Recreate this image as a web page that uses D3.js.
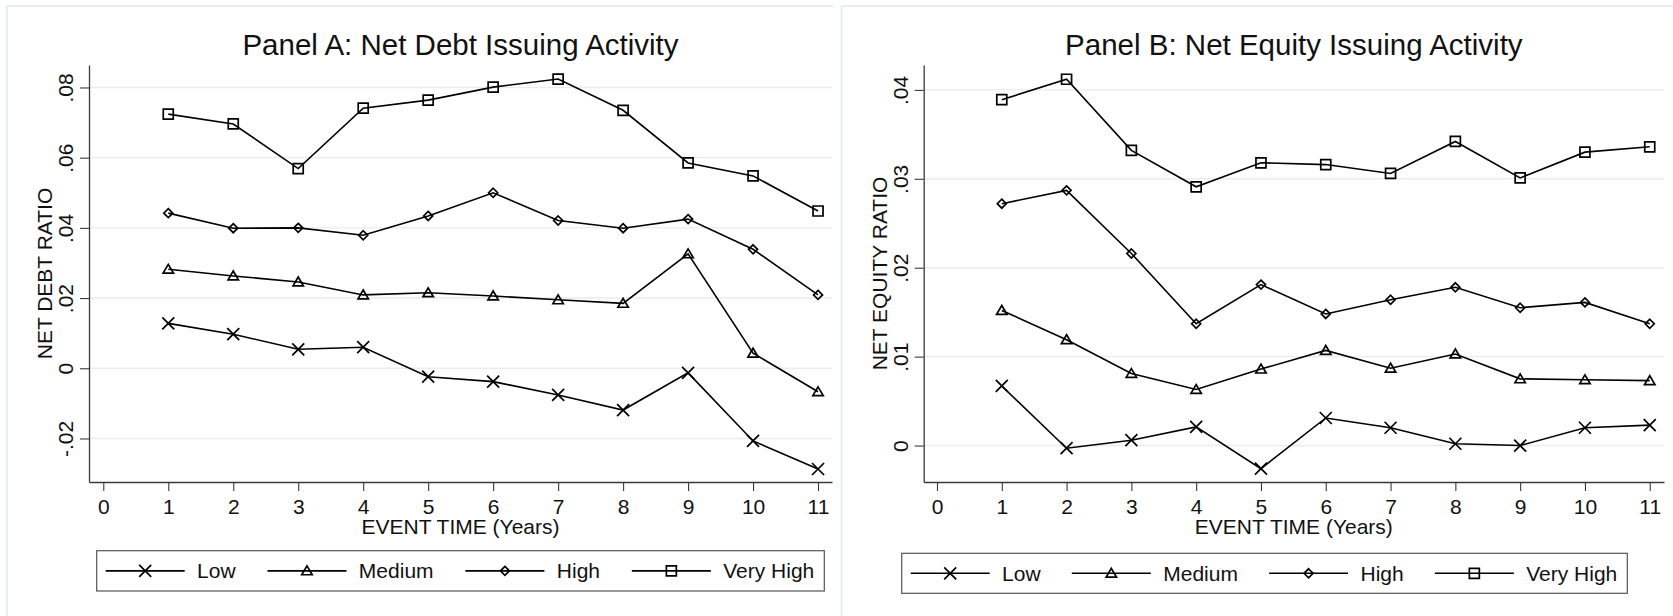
<!DOCTYPE html>
<html>
<head>
<meta charset="utf-8">
<script src="https://cdn.jsdelivr.net/npm/d3@7"></script>
<style>
  body { margin: 0; background: #fff; }
  svg { display: block; font-family: "Liberation Sans", Arial, sans-serif; }
</style>
</head>
<body>
<svg id="chart" width="1673" height="616"></svg>
<script>
// data
const years = [1, 2, 3, 4, 5, 6, 7, 8, 9, 10, 11];
const xTicks = [0, 1, 2, 3, 4, 5, 6, 7, 8, 9, 10, 11];
const seriesNames = ["Low", "Medium", "High", "Very High"];

const debtLow      = [0.0128, 0.0097, 0.0054, 0.0060, -0.0024, -0.0038, -0.0076, -0.0119, -0.0013, -0.0207, -0.0287];
const debtMedium   = [0.0282, 0.0263, 0.0246, 0.0209, 0.0215, 0.0206, 0.0195, 0.0185, 0.0326, 0.0043, -0.0067];
const debtHigh     = [0.0442, 0.0399, 0.0400, 0.0379, 0.0434, 0.0500, 0.0421, 0.0399, 0.0425, 0.0339, 0.0209];
const debtVeryHigh = [0.0724, 0.0696, 0.0569, 0.0741, 0.0764, 0.0801, 0.0824, 0.0735, 0.0585, 0.0548, 0.0448];

const equityLow      = [0.0067, -0.0003, 0.0006, 0.0021, -0.0026, 0.0031, 0.0020, 0.0002, 0.0000, 0.0020, 0.0023];
const equityMedium   = [0.0152, 0.0119, 0.0081, 0.0063, 0.0086, 0.0107, 0.0087, 0.0103, 0.0075, 0.0074, 0.0073];
const equityHigh     = [0.0272, 0.0287, 0.0216, 0.0137, 0.0181, 0.0148, 0.0164, 0.0178, 0.0155, 0.0161, 0.0137];
const equityVeryHigh = [0.0389, 0.0412, 0.0332, 0.0291, 0.0318, 0.0316, 0.0306, 0.0342, 0.0301, 0.0330, 0.0336];

const debtTicks = [-0.02, 0, 0.02, 0.04, 0.06, 0.08];
const debtTickLabels = ["-.02", "0", ".02", ".04", ".06", ".08"];
const equityTicks = [0, 0.01, 0.02, 0.03, 0.04];
const equityTickLabels = ["0", ".01", ".02", ".03", ".04"];

const svg = d3.select("#chart");
const gridColor = "#e6eef0";
const frameColor = "#e2e9eb";
const axisColor = "#3a3a3a";

// marker shapes, size = half width
const markerTypes = {
  times: { draw(c, s) { c.moveTo(-s, -s); c.lineTo(s, s); c.moveTo(s, -s); c.lineTo(-s, s); } },
  triangle: { draw(c, s) { c.moveTo(0, -s * 0.95); c.lineTo(s, s * 0.75); c.lineTo(-s, s * 0.75); c.closePath(); } },
  diamond: { draw(c, s) { c.moveTo(0, -s); c.lineTo(s, 0); c.lineTo(0, s); c.lineTo(-s, 0); c.closePath(); } },
  square: { draw(c, s) { c.rect(-s, -s, 2 * s, 2 * s); } }
};
const markers = [
  { type: markerTypes.times, size: 6 },
  { type: markerTypes.triangle, size: 5.2 },
  { type: markerTypes.diamond, size: 4.5 },
  { type: markerTypes.square, size: 5 }
];

function drawPanel(p) {
  const g = svg.append("g");

  // light frame of the graph region
  g.append("line").attr("x1", p.frameX).attr("x2", p.frameRight).attr("y1", 6).attr("y2", 6)
    .attr("stroke", frameColor).attr("stroke-width", 1.5);
  g.append("line").attr("x1", p.frameX).attr("x2", p.frameX).attr("y1", 6).attr("y2", 616)
    .attr("stroke", frameColor).attr("stroke-width", 1.5);

  const x = d3.scaleLinear().domain(p.xDomain).range([p.left, p.right]);
  const y = d3.scaleLinear().domain(p.yDomain).range([p.bottom, p.top]);

  // gridlines
  g.append("g").selectAll("line").data(p.yTicks).join("line")
    .attr("x1", p.left).attr("x2", p.right)
    .attr("y1", d => y(d)).attr("y2", d => y(d))
    .attr("stroke", gridColor).attr("stroke-width", 1.4);

  // x axis
  const xAxis = g.append("g")
    .attr("transform", "translate(0," + p.bottom + ")")
    .call(d3.axisBottom(x).tickValues(xTicks).tickSize(9).tickSizeOuter(0).tickPadding(8));
  xAxis.select(".domain").attr("stroke", axisColor).attr("stroke-width", 1.3);
  xAxis.selectAll(".tick line").attr("stroke", axisColor).attr("stroke-width", 1.1);
  xAxis.selectAll(".tick text").attr("font-size", 21).attr("fill", "#111")
    .attr("font-family", "Liberation Sans, Arial, sans-serif");

  // y axis with rotated labels
  const yAxis = g.append("g")
    .attr("transform", "translate(" + p.left + ",0)")
    .call(d3.axisLeft(y).tickValues(p.yTicks).tickSize(9).tickSizeOuter(0)
      .tickFormat((d, i) => p.yTickLabels[i]));
  yAxis.select(".domain").attr("stroke", axisColor).attr("stroke-width", 1.3);
  yAxis.selectAll(".tick line").attr("stroke", axisColor).attr("stroke-width", 1.1);
  yAxis.selectAll(".tick text")
    .attr("x", null).attr("dy", null)
    .attr("text-anchor", "middle")
    .attr("transform", "translate(-16,0) rotate(-90)")
    .attr("font-size", 21).attr("fill", "#111")
    .attr("font-family", "Liberation Sans, Arial, sans-serif");

  // titles
  g.append("text").attr("x", (p.left + p.right) / 2).attr("y", 55)
    .attr("text-anchor", "middle").attr("font-size", 29.5).attr("fill", "#111")
    .text(p.title);
  g.append("text").attr("x", (p.left + p.right) / 2).attr("y", 534)
    .attr("text-anchor", "middle").attr("font-size", 21).attr("fill", "#111")
    .text("EVENT TIME (Years)");
  g.append("text")
    .attr("transform", "translate(" + (p.left - 37) + "," + (p.top + p.bottom) / 2 + ") rotate(-90)")
    .attr("text-anchor", "middle").attr("font-size", 21).attr("fill", "#111")
    .text(p.yLabel);

  // series
  const line = d3.line().x(d => x(d.x)).y(d => y(d.y));
  p.series.forEach((vals, i) => {
    const pts = years.map((yr, j) => ({ x: yr, y: vals[j] }));
    g.append("path").attr("d", line(pts)).attr("fill", "none")
      .attr("stroke", "#000").attr("stroke-width", 1.6);
    const sym = d3.symbol().type(markers[i].type).size(markers[i].size);
    g.append("g").selectAll("path").data(pts).join("path")
      .attr("transform", d => "translate(" + x(d.x) + "," + y(d.y) + ")")
      .attr("d", sym).attr("fill", "none").attr("stroke", "#000").attr("stroke-width", 1.7);
  });

  // legend
  const lg = g.append("g");
  lg.append("rect").attr("x", p.legend.x).attr("y", p.legend.y)
    .attr("width", p.legend.w).attr("height", p.legend.h)
    .attr("fill", "#fff").attr("stroke", "#555").attr("stroke-width", 1.2);
  const cy = p.legend.y + p.legend.h / 2;
  const lineLen = 79, textGap = 12.4, padL = 9, padR = 10;
  const labels = seriesNames.map(n => lg.append("text").attr("font-size", 21).attr("fill", "#111").text(n));
  const widths = labels.map(t => t.node().getComputedTextLength());
  const used = d3.sum(widths) + seriesNames.length * (lineLen + textGap);
  const gap = (p.legend.w - padL - padR - used) / (seriesNames.length - 1);
  let cx = p.legend.x + padL;
  seriesNames.forEach((n, i) => {
    lg.append("line").attr("x1", cx).attr("x2", cx + lineLen).attr("y1", cy).attr("y2", cy)
      .attr("stroke", "#000").attr("stroke-width", 1.6);
    lg.append("path").attr("transform", "translate(" + (cx + lineLen / 2) + "," + cy + ")")
      .attr("d", d3.symbol().type(markers[i].type).size(markers[i].size))
      .attr("fill", "none").attr("stroke", "#000").attr("stroke-width", 1.7);
    labels[i].attr("x", cx + lineLen + textGap).attr("y", cy + 7.5);
    cx += lineLen + textGap + widths[i] + gap;
  });
}

drawPanel({
  title: "Panel A: Net Debt Issuing Activity",
  yLabel: "NET DEBT RATIO",
  frameX: 7, frameRight: 833,
  left: 89, right: 832, top: 65, bottom: 482,
  xDomain: [-0.22, 11.215],
  yDomain: [-0.0324, 0.0864],
  yTicks: debtTicks, yTickLabels: debtTickLabels,
  series: [debtLow, debtMedium, debtHigh, debtVeryHigh],
  legend: { x: 96.7, y: 550.7, w: 727.6, h: 40.3 }
});

drawPanel({
  title: "Panel B: Net Equity Issuing Activity",
  yLabel: "NET EQUITY RATIO",
  frameX: 841.5, frameRight: 1673,
  left: 923.7, right: 1664, top: 65, bottom: 482,
  xDomain: [-0.205, 11.22],
  yDomain: [-0.0041, 0.0428],
  yTicks: equityTicks, yTickLabels: equityTickLabels,
  series: [equityLow, equityMedium, equityHigh, equityVeryHigh],
  legend: { x: 901.7, y: 553.3, w: 725.6, h: 40 }
});
</script>
</body>
</html>
